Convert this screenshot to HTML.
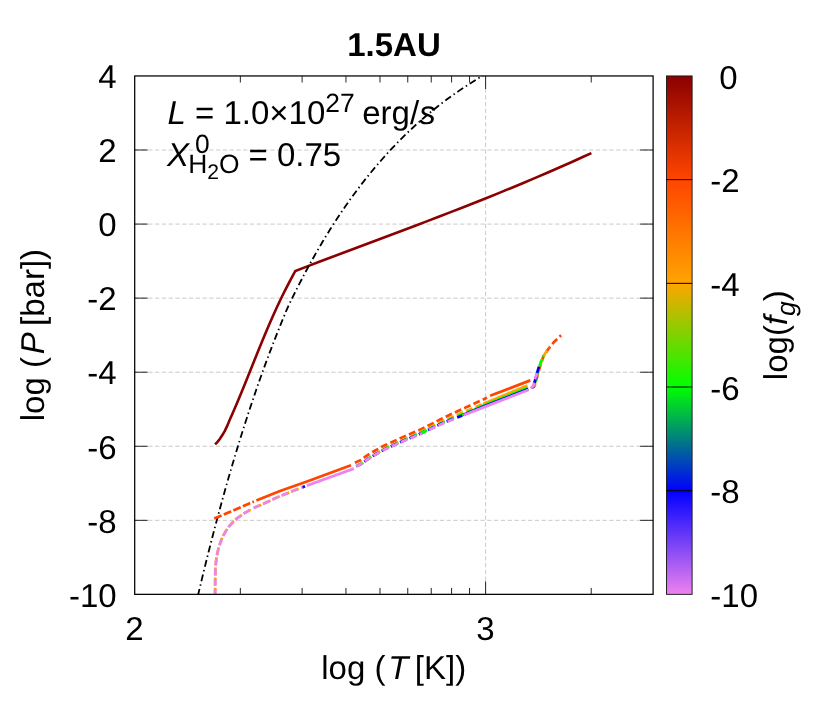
<!DOCTYPE html>
<html><head><meta charset="utf-8"><title>1.5AU</title>
<style>html,body{margin:0;padding:0;background:#fff;}svg{display:block;will-change:transform;}text{font-family:"Liberation Sans",sans-serif;fill:#000;text-rendering:geometricPrecision;}</style>
</head><body>
<svg width="830" height="712" viewBox="0 0 830 712">
<rect x="0" y="0" width="830" height="712" fill="#ffffff"/>
<defs><clipPath id="pc"><rect x="134.7" y="75.95" width="518.4" height="518.4"/></clipPath></defs>
<g stroke="#cacaca" stroke-width="1" stroke-dasharray="4.3,2.48" fill="none">
<line x1="134.7" y1="150.01" x2="653.1" y2="150.01"/>
<line x1="134.7" y1="224.08" x2="653.1" y2="224.08"/>
<line x1="134.7" y1="298.14" x2="653.1" y2="298.14"/>
<line x1="134.7" y1="372.21" x2="653.1" y2="372.21"/>
<line x1="134.7" y1="446.27" x2="653.1" y2="446.27"/>
<line x1="134.7" y1="520.34" x2="653.1" y2="520.34"/>
<line x1="485.60" y1="594.4" x2="485.60" y2="76.0"/>
</g>
<g clip-path="url(#pc)" fill="none" stroke-linecap="butt" stroke-linejoin="round">
<path d="M215.10,444.40 L217.30,442.10 L219.80,439.00 L222.20,435.30 L224.70,431.10 L227.20,425.90 L229.53,420.30 L232.20,414.30 L234.80,408.30 L237.36,402.30 L239.87,396.30 L242.34,390.30 L244.79,384.30 L247.22,378.30 L249.63,372.30 L252.04,366.30 L254.44,360.30 L256.86,354.30 L259.29,348.30 L261.75,342.30 L264.23,336.30 L266.75,330.30 L269.32,324.30 L271.95,318.30 L274.63,312.30 L277.38,306.30 L280.20,300.30 L283.11,294.30 L286.10,288.30 L289.20,282.30 L292.39,276.30 L295.30,270.95 L307.30,266.36 L319.30,261.81 L331.30,257.27 L343.30,252.75 L355.30,248.25 L367.30,243.74 L379.30,239.24 L391.30,234.73 L403.30,230.20 L415.30,225.66 L427.30,221.09 L439.30,216.49 L451.30,211.86 L463.30,207.18 L475.30,202.46 L487.30,197.68 L499.30,192.84 L511.30,187.93 L523.30,182.95 L535.30,177.90 L547.30,172.76 L559.30,167.53 L571.30,162.21 L583.30,156.78 L591.40,153.06" stroke="#8b0000" stroke-width="2.6" stroke-linejoin="miter"/>
<path id="blk" d="M195.63,605.52 L196.52,601.68 L197.42,597.84 L198.32,594.00 L199.23,590.16 L200.15,586.33 L201.07,582.49 L201.99,578.65 L202.92,574.81 L203.86,570.97 L204.80,567.13 L205.75,563.29 L206.70,559.45 L207.66,555.61 L208.63,551.78 L209.60,547.94 L210.58,544.10 L211.57,540.26 L212.56,536.42 L213.56,532.58 L214.56,528.74 L215.57,524.90 L216.59,521.07 L217.61,517.23 L218.65,513.39 L219.68,509.55 L220.73,505.71 L221.78,501.87 L222.84,498.03 L223.91,494.19 L224.99,490.36 L226.07,486.52 L227.16,482.68 L228.26,478.84 L229.37,475.00 L230.48,471.16 L231.60,467.32 L232.73,463.48 L233.87,459.64 L235.02,455.81 L236.18,451.97 L237.35,448.13 L238.52,444.29 L239.70,440.45 L240.90,436.61 L242.10,432.77 L243.31,428.93 L244.53,425.10 L245.77,421.26 L247.01,417.42 L248.26,413.58 L249.52,409.74 L250.79,405.90 L252.08,402.06 L253.37,398.22 L254.68,394.39 L256.00,390.55 L257.32,386.71 L258.66,382.87 L260.02,379.03 L261.38,375.19 L262.76,371.35 L264.15,367.51 L265.55,363.67 L266.96,359.84 L268.39,356.00 L269.83,352.16 L271.29,348.32 L272.76,344.48 L274.24,340.64 L275.74,336.80 L277.25,332.96 L278.78,329.13 L280.32,325.29 L281.88,321.45 L283.46,317.61 L285.05,313.77 L286.66,309.93 L288.34,306.09 L290.18,302.25 L292.05,298.42 L293.93,294.58 L295.84,290.74 L297.78,286.90 L299.74,283.06 L301.72,279.22 L303.74,275.38 L305.77,271.54 L307.84,267.70 L309.94,263.87 L312.06,260.03 L314.21,256.19 L316.40,252.35 L318.61,248.51 L320.86,244.67 L323.15,240.83 L325.46,236.99 L327.82,233.16 L330.21,229.32 L332.64,225.48 L335.10,221.64 L337.61,217.80 L340.16,213.96 L342.76,210.12 L345.40,206.28 L348.08,202.45 L350.81,198.61 L353.60,194.77 L356.43,190.93 L359.32,187.09 L362.27,183.25 L365.27,179.41 L368.33,175.57 L371.46,171.73 L374.65,167.90 L377.91,164.06 L381.24,160.22 L384.65,156.38 L388.13,152.54 L391.69,148.70 L395.34,144.86 L399.08,141.02 L402.92,137.19 L406.85,133.35 L410.89,129.51 L415.03,125.67 L419.30,121.83 L423.68,117.99 L428.20,114.15 L432.85,110.31 L437.65,106.48 L442.60,102.64 L447.73,98.80 L453.03,94.96 L458.52,91.12 L464.22,87.28 L470.13,83.44 L476.29,79.60 L482.71,75.76 L489.41,71.93 L496.41,68.09" stroke="#000" stroke-width="1.8" stroke-dasharray="6.938 3.221 1.487 3.221" stroke-dashoffset="4.78"/>
<g stroke="#ff4500" stroke-width="2.75">
<path d="M214.20,518.60 L230.90,511.60 L249.40,503.40 L253.90,501.54" stroke-dasharray="8 2.4"/>
<path d="M256.40,500.50 L270.00,495.00 L280.00,491.00 L307.00,481.50 L330.00,473.00 L351.00,465.30"/>
<path d="M354.90,462.80 L361.10,459.90 L366.50,455.80 L375.20,450.50 L384.40,445.50 L393.30,441.50 L402.70,437.20 L411.80,433.20 L421.20,429.20 L430.60,424.50 L439.60,419.80 L449.50,415.00 L484.30,399.00 L487.00,397.60" stroke-dasharray="6.9 3.3"/>
<path d="M490.10,395.80 L530.30,380.40"/>
<path d="M532.60,385.90 L533.60,387.00 L534.70,385.70 L537.10,377.00 L539.90,367.00 L543.20,357.00 L547.90,349.50 L553.60,342.50 L561.10,335.30" stroke-dasharray="6.9 3.3" stroke-dashoffset="2.0"/>
</g>
<g stroke="#ffa500" stroke-width="2.75">
<path d="M215.10,600.00 L215.10,594.40 L215.20,580.00 L215.40,567.20 L216.70,556.40 L218.80,547.10 L222.40,537.10 L227.80,527.80 L234.70,520.10 L243.20,513.90 L250.70,509.55" stroke-dasharray="8.1 2.1" stroke-dashoffset="6.1"/>
<path d="M253.70,507.98 L264.90,503.10 L275.80,497.90 L294.60,490.30 L299.50,488.43" stroke-dasharray="8.2 2.0" stroke-dashoffset="0"/>
<path d="M356.20,466.34 L362.70,462.86 L368.00,458.62 L376.60,453.28 L385.60,448.13 L395.10,443.67 L404.50,439.21 L413.90,435.15 L423.30,430.59 L432.70,425.94 L442.10,421.38 L449.50,418.17 L463.40,412.29 L483.10,403.92" stroke-dasharray="6.9 3.3" stroke-dashoffset="9.2"/>
<path d="M483.10,403.92 L485.30,402.99 L527.40,385.48"/>
<path d="M532.20,386.10 L533.20,387.20 L534.30,385.90 L536.70,377.20 L539.50,367.20 L542.80,357.20 L547.50,349.70 L549.29,347.50" stroke-dasharray="6.9 3.3" stroke-dashoffset="6.5"/>
</g>
<g stroke="#00ff00" stroke-width="2.75">
<path d="M356.20,466.37 L362.70,462.99 L368.00,458.82 L376.60,453.60 L385.60,448.59 L395.10,444.26 L404.50,439.94 L413.90,436.01 L423.30,431.59 L432.70,427.07 L442.10,422.64 L449.50,419.55 L463.40,413.86 L474.10,409.47" stroke-dasharray="6.9 3.3" stroke-dashoffset="9.6"/>
<path d="M474.10,409.47 L485.30,404.88 L527.80,387.81"/>
<path d="M531.80,386.20 L532.80,387.30 L533.90,386.00 L536.30,377.30 L539.10,367.30 L542.40,357.30 L543.53,355.50" stroke-dasharray="6.9 3.3" stroke-dashoffset="7"/>
</g>
<g stroke="#0000ff" stroke-width="2.75">
<path d="M302.30,487.36 L305.00,486.33"/>
<path d="M356.20,466.39 L362.70,463.05 L368.00,458.93 L376.60,453.78 L385.60,448.83 L395.10,444.58 L404.50,440.33 L413.90,436.48 L423.30,432.13 L432.70,427.68 L442.10,423.33 L449.50,420.29 L454.80,418.17" stroke-dasharray="6.9 3.3" stroke-dashoffset="0.8"/>
<path d="M457.20,417.45 L462.30,415.44"/>
<path d="M463.00,414.88 L463.40,414.72 L485.30,405.90 L528.30,388.97"/>
<path d="M531.40,386.30 L532.40,387.40 L533.50,386.10 L535.90,377.40 L538.70,367.40 L539.82,364.00" stroke-dasharray="6.9 3.3" stroke-dashoffset="4"/>
</g>
<g stroke="#ee82ee" stroke-width="2.75">
<path d="M215.10,600.00 L215.10,594.40 L215.20,580.00 L215.40,567.20 L216.70,556.40 L218.80,547.10 L222.40,537.10 L227.80,527.80 L234.70,520.10 L243.20,513.90 L250.70,509.55" stroke-dasharray="6.9 3.3" stroke-dashoffset="6.1"/>
<path d="M253.70,507.98 L264.90,503.10 L275.80,497.90 L294.60,490.30 L298.20,488.92" stroke-dasharray="6.9 3.3" stroke-dashoffset="0"/>
<path d="M301.10,487.82 L302.60,487.24"/>
<path d="M306.90,485.60 L330.00,477.30 L353.90,468.60"/>
<path d="M356.20,466.40 L362.70,463.10 L368.00,459.00 L376.60,453.90 L385.60,449.00 L395.10,444.80 L404.50,440.60 L413.90,436.80 L423.30,432.50 L432.70,428.10 L442.10,423.80 L449.50,420.80 L454.60,418.78" stroke-dasharray="6.9 3.3"/>
<path d="M463.40,415.30 L485.30,406.60 L528.80,389.70"/>
<path d="M531.00,386.40 L532.00,387.50 L533.10,386.20 L535.50,377.50 L537.04,372.00" stroke-dasharray="6.9 3.3" stroke-dashoffset="0"/>
</g>
<path d="M421.40,433.07 L423.30,432.20 L426.90,430.51" stroke="#00ff00" stroke-width="2.75"/>
</g>
<g stroke="#1a1a1a" stroke-width="0.95" fill="none">
<line x1="134.7" y1="150.01" x2="147.7" y2="150.01"/>
<line x1="653.1" y1="150.01" x2="640.1" y2="150.01"/>
<line x1="134.7" y1="224.08" x2="147.7" y2="224.08"/>
<line x1="653.1" y1="224.08" x2="640.1" y2="224.08"/>
<line x1="134.7" y1="298.14" x2="147.7" y2="298.14"/>
<line x1="653.1" y1="298.14" x2="640.1" y2="298.14"/>
<line x1="134.7" y1="372.21" x2="147.7" y2="372.21"/>
<line x1="653.1" y1="372.21" x2="640.1" y2="372.21"/>
<line x1="134.7" y1="446.27" x2="147.7" y2="446.27"/>
<line x1="653.1" y1="446.27" x2="640.1" y2="446.27"/>
<line x1="134.7" y1="520.34" x2="147.7" y2="520.34"/>
<line x1="653.1" y1="520.34" x2="640.1" y2="520.34"/>
<line x1="240.33" y1="594.4" x2="240.33" y2="587.9"/>
<line x1="240.33" y1="76.0" x2="240.33" y2="82.5"/>
<line x1="302.12" y1="594.4" x2="302.12" y2="587.9"/>
<line x1="302.12" y1="76.0" x2="302.12" y2="82.5"/>
<line x1="345.96" y1="594.4" x2="345.96" y2="587.9"/>
<line x1="345.96" y1="76.0" x2="345.96" y2="82.5"/>
<line x1="379.97" y1="594.4" x2="379.97" y2="587.9"/>
<line x1="379.97" y1="76.0" x2="379.97" y2="82.5"/>
<line x1="407.75" y1="594.4" x2="407.75" y2="587.9"/>
<line x1="407.75" y1="76.0" x2="407.75" y2="82.5"/>
<line x1="431.24" y1="594.4" x2="431.24" y2="587.9"/>
<line x1="431.24" y1="76.0" x2="431.24" y2="82.5"/>
<line x1="451.59" y1="594.4" x2="451.59" y2="587.9"/>
<line x1="451.59" y1="76.0" x2="451.59" y2="82.5"/>
<line x1="469.54" y1="594.4" x2="469.54" y2="587.9"/>
<line x1="469.54" y1="76.0" x2="469.54" y2="82.5"/>
<line x1="591.23" y1="594.4" x2="591.23" y2="587.9"/>
<line x1="591.23" y1="76.0" x2="591.23" y2="82.5"/>
<line x1="485.60" y1="594.4" x2="485.60" y2="581.4"/>
<line x1="485.60" y1="76.0" x2="485.60" y2="89.0"/>
</g>
<rect x="134.7" y="75.95" width="518.4" height="518.4" fill="none" stroke="#000" stroke-width="1.25"/>
<defs><linearGradient id="cb" x1="0" y1="1" x2="0" y2="0">
<stop offset="0" stop-color="#ee82ee"/>
<stop offset="0.2" stop-color="#0000ff"/>
<stop offset="0.4" stop-color="#00ff00"/>
<stop offset="0.6" stop-color="#ffa500"/>
<stop offset="0.8" stop-color="#ff4500"/>
<stop offset="1" stop-color="#8b0000"/>
</linearGradient></defs>
<rect x="666.5" y="75.95" width="25.6" height="518.4" fill="url(#cb)" stroke="#1c1c1c" stroke-width="0.95"/>
<g stroke="#000" stroke-width="1">
<line x1="666.5" y1="179.64" x2="692.1" y2="179.64"/>
<line x1="666.5" y1="283.33" x2="692.1" y2="283.33"/>
<line x1="666.5" y1="387.02" x2="692.1" y2="387.02"/>
<line x1="666.5" y1="490.71" x2="692.1" y2="490.71"/>
</g>
<g font-size="33.0">
<text x="116.7" y="88.2" text-anchor="end">4</text>
<text x="116.7" y="162.2" text-anchor="end">2</text>
<text x="116.7" y="236.3" text-anchor="end">0</text>
<text x="116.7" y="310.3" text-anchor="end">-2</text>
<text x="116.7" y="384.4" text-anchor="end">-4</text>
<text x="116.7" y="458.5" text-anchor="end">-6</text>
<text x="116.7" y="532.5" text-anchor="end">-8</text>
<text x="116.7" y="606.6" text-anchor="end">-10</text>
<text x="134.4" y="639.6" text-anchor="middle">2</text>
<text x="485.5" y="639.6" text-anchor="middle">3</text>
<text x="719.2" y="88.5">0</text>
<text x="710.3" y="192.2">-2</text>
<text x="710.3" y="295.9">-4</text>
<text x="710.3" y="399.6">-6</text>
<text x="710.3" y="503.3">-8</text>
<text x="710.3" y="607.0">-10</text>
<text x="393.7" y="679" text-anchor="middle">log (<tspan font-style="italic" dx="2.9">T</tspan><tspan dx="-2.9"> [K])</tspan></text>
<text transform="translate(43.9,335.1) rotate(-90)" text-anchor="middle">log (<tspan font-style="italic" dx="2.9">P</tspan><tspan dx="-2.9"> [bar])</tspan></text>
<text transform="translate(786.8,335.2) rotate(-90)" text-anchor="middle">log(<tspan font-style="italic">f</tspan><tspan font-style="italic" font-size="26.4" dy="8">g</tspan><tspan dy="-8">)</tspan></text>
<text x="394" y="55.7" text-anchor="middle" font-weight="bold">1.5AU</text>
<text x="167.5" y="124.1"><tspan font-style="italic">L</tspan> = 1.0×10<tspan font-size="26.4" dy="-12.1">27</tspan><tspan dy="12.1" dx="-1.6"> erg/</tspan><tspan font-style="italic">s</tspan></text>
<text x="167.0" y="165.8"><tspan font-style="italic">X</tspan></text>
<text x="195" y="152.8" font-size="26.4">0</text>
<text x="188.2" y="172.8" font-size="26.4">H<tspan font-size="21.1" dy="6.2">2</tspan><tspan dy="-6.2">O</tspan></text>
<text x="248.5" y="165.8">= 0.75</text>
</g>
</svg></body></html>
